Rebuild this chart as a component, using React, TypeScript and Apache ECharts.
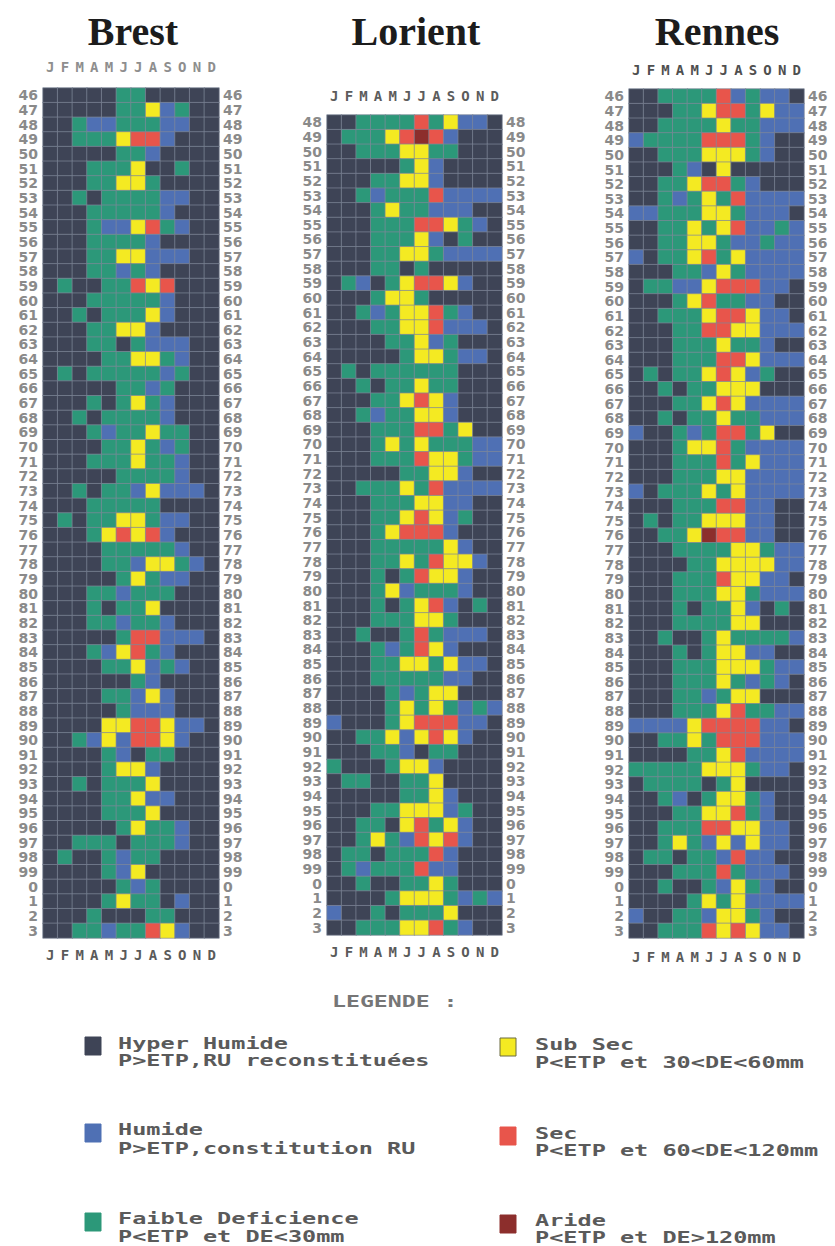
import React, { useEffect, useRef } from "react";
import * as echarts from "echarts";

// Month tick labels (one letter per column)
const months = ["J", "F", "M", "A", "M", "J", "J", "A", "S", "O", "N", "D"];

// Year tick labels
const yearsFrom46 = [
  "46", "47", "48", "49", "50", "51", "52", "53", "54", "55", "56", "57", "58", "59",
  "60", "61", "62", "63", "64", "65", "66", "67", "68", "69", "70", "71", "72", "73",
  "74", "75", "76", "77", "78", "79", "80", "81", "82", "83", "84", "85", "86", "87",
  "88", "89", "90", "91", "92", "93", "94", "95", "96", "97", "98", "99", "0", "1", "2", "3",
];
const yearsFrom48 = [
  "48", "49", "50", "51", "52", "53", "54", "55", "56", "57", "58", "59",
  "60", "61", "62", "63", "64", "65", "66", "67", "68", "69", "70", "71", "72", "73",
  "74", "75", "76", "77", "78", "79", "80", "81", "82", "83", "84", "85", "86", "87",
  "88", "89", "90", "91", "92", "93", "94", "95", "96", "97", "98", "99", "0", "1", "2", "3",
];

// Classes: H Hyper Humide, U Humide, F Faible Deficience, Y Sub Sec, S Sec, A Aride
const classCodes = ["H", "U", "F", "Y", "S", "A"];
const classNames = ["Hyper Humide", "Humide", "Faible Deficience", "Sub Sec", "Sec", "Aride"];
const classDescriptions = [
  "P>ETP,RU reconstituées",
  "P>ETP,constitution RU",
  "P<ETP et DE<30mm",
  "P<ETP et 30<DE<60mm",
  "P<ETP et 60<DE<120mm",
  "P<ETP et DE>120mm",
];
const classColors = ["#3e4456", "#4f70b4", "#2c9879", "#f4ea22", "#e8554b", "#8c2e2c"];

// One string per year (J..D)
const brestRows = [
  "HHHHHFFHHHHH", "HHHHHFFYUFHH", "HHFUUFFFUUHH", "HHFFFYSSUHHH", "HHHHHFFUHHHH",
  "HHHFFFYHHFHH", "HHHFFYYFHHHH", "HHFHFFFFUUHH", "HHHFFFFFUHHH", "HHHFUUYSFUHH",
  "HHHFFFFUHHHH", "HHHFFYYUUUHH", "HHHFFUFUHHHH", "HFHHFFSYSHHH", "HHHFFFFFUHHH",
  "HHFHFFFYUHHH", "HHHFFYYUHHHH", "HHHFFHFUUUHH", "HHHHFFYYFUHH", "HFHFFFFFUFHH",
  "HHHHHFFUFHHH", "HHHFHFYFUHHH", "HHFHFFFFUHHH", "HHHFUFFYFFHH", "HHHHFFYFUFHH",
  "HHHFFFYFFUHH", "HHHHHFFFFUHH", "HHFHFFUYUUUH", "HHHFFFFFHHHH", "HFHFFYYFUUHH",
  "HHHFYSYSUHHH", "HHHHFFFFFUHH", "HHHHFFUYYFUH", "HHHHHFYFUUHH", "HHHFFUFFFHHH",
  "HHHFHFFYHHHH", "HHHFFUFFUHHH", "HHHHHFSSUUUH", "HHHFUYSFUHHH", "HHHHFFYUFUHH",
  "HHHHHHFUHHHH", "HHHHFFUYUHHH", "HHHHHFUUUHHH", "HHHHYYSSYUUH", "HHFUYUSSYUHH",
  "HHHHFUHFFHHH", "HHHHFYYUHHHH", "HHFHFFFYHHHH", "HHHHFFYUUHHH", "HHHHFFFYHHHH",
  "HHHHHFYFFUHH", "HHFFFHFFFUHH", "HFHHFUFFHHHH", "HHHHFUYHHHHH", "HHHHHFUFHHHH",
  "HHHHFYFFHUHH", "HHHFHHHFFHHH", "HHFFUFFSYUHH",
];

const lorientRows = [
  "HHFFFFSFYUUH", "HFFFYSASUHHH", "HHFFFYYFFHHH", "HHHHHFYUHHHH", "HHHFFYYUHHHH",
  "HHFUFFFSUUUU", "HHHFYFFUUUHH", "HHHFFFSSYFUH", "HHHFFFYUHFHH", "HHHFFYYFUUUU",
  "HHHFFHFHHHHH", "HFUHFYSSYUHH", "HHHFYYFHHHHH", "HHFUFYYSFUHH", "HHHFFYYSUUUH",
  "HHHHFFYUFHHH", "HHHHHFYYFUUH", "HFHFFFFFFHHH", "HHFHFFYFFHHH", "HHHFFYSYUHHH",
  "HHFUFFYYUHHH", "HHHFFFSSFYHH", "HHHFYFYFFFUU", "HHHFFFSYYFUU", "HHHHHFFYYUHH",
  "HHFFFYFSUUUU", "HHHFFFYYUUHH", "HHHFFYSYUFHH", "HHHFYSSSUHHH", "HHHFFFFFYUHH",
  "HHHFFYFSYYUH", "HHHFHFSYYUHH", "HHHFYUFFFUHH", "HHHFHFYSUHFH", "HHHFFFYYFHHH",
  "HHFHHFSFUUUH", "HHHFUFSYUHHH", "HHHFFYYFYUUH", "HHHFFFFFUUHH", "HHHHFUFYYHHH",
  "HHHHFYFYFUFU", "UHHHFYSSSUUH", "HHFFYUYSYUHH", "HHHFFUHFFHHH", "FHHHFYYUHHHH",
  "HFFHHFFYHHHH", "HHHHHFFYUHHH", "HHHFFYYYUFHH", "HHFFHYSFYUHH", "HHFYFUSYSUHH",
  "HFFHFFFSUHHH", "HFUFFFSUUHHH", "HHFHHFFYFHHH", "HHHHFYYYFUFU", "UHHFHFFFYHHH",
  "HHFFFYYSFUHH",
];

const rennesRows = [
  "HHFFFFSUFUUH", "HHHFFYSSFYUU", "HHFFFFYFFUUU", "UFFFFSSSFUHH", "HHFFFYYYFUHH",
  "HHHFUHYHHHHH", "HHFFYSSFUHHH", "HHFUFYFSUUUU", "UUFFFYYFUUUH", "HHFFYFYSUUFU",
  "HHFFYYFUUFUU", "UHFFYSFYUUUU", "HHHFFUYFUUUU", "HFFUUYSSSUUH", "HHHFYSFFUUHH",
  "HHFFFYSSYUUH", "HHHFFSSYYUUU", "HHHFFFYFFUHH", "HHHFFFSSYUUU", "HFHFFYSYUFHH",
  "HHFHFFYYYHHH", "HHHFFYSYUUUU", "HHFHFFYFFUUU", "UHHFUFSSFYHH", "HHHFYYSFUUUU",
  "HHHFFFSFYUUU", "HHHFFFYYUUUU", "UHFFFYFYUUUU", "HHHFFFSSUUHH", "HFHFFYYYUUHH",
  "HHFFYASSUUHH", "HHHFFFFYYFUU", "HHHHFFYYYYUU", "HHHFFFSYYUUH", "HHHFFFYYFUUU",
  "HHHFHFFYUHFH", "HHHFFFFYYHHH", "HHFHHFYFFFFU", "HHHFHFYYUUHH", "HHHFFFYYYFUU",
  "HHHFFFYFUFUH", "HHHFFUFYYHHH", "HHHFFFYSFFUU", "UUUUYSSSSUUH", "HHFFYFSSSUUU",
  "HHHHFFYSUUUU", "FFFFFYYYFUUH", "HFFFFHFYHHHH", "HHFUHFYYFUHH", "HHHFFYYSFUHH",
  "HHFFFSSYYUUH", "HHFYFUYUYUUH", "HFFHFFUSUUHH", "HHHFFFSFUUUH", "HHFHHFUYFUHH",
  "HHHHFYFYUUUU", "UHHFFUYYFUHH", "HHFFFSYSYUUH",
];

const stationNames = ["Brest", "Lorient", "Rennes"];

function toHeatmapData(rows: string[]) {
  const out: number[][] = [];
  rows.forEach((row, y) => {
    row.split("").forEach((ch, x) => {
      out.push([x, y, classCodes.indexOf(ch)]);
    });
  });
  return out;
}

export default function App() {
  const ref = useRef<HTMLDivElement>(null);

  useEffect(() => {
    if (!ref.current) return;
    const chart = echarts.init(ref.current, undefined, { renderer: "svg" });

    const stations = [
      { rows: brestRows, years: yearsFrom46, grid: { left: 43, top: 88, width: 176, height: 850 }, topMargin: 14, bottomMargin: 10, topColor: "#8e8e8e", titleX: 128 },
      { rows: lorientRows, years: yearsFrom48, grid: { left: 327, top: 115, width: 175, height: 820 }, topMargin: 12, bottomMargin: 10, topColor: "#5c5c5c", titleX: 411 },
      { rows: rennesRows, years: yearsFrom46, grid: { left: 629, top: 89, width: 175, height: 849 }, topMargin: 12, bottomMargin: 12, topColor: "#4f4f4f", titleX: 712 },
    ];

    const monthLabel = (margin: number, color: string) => ({
      interval: 0,
      margin,
      color,
      fontSize: 14,
      lineHeight: 14,
      fontWeight: "bold" as const,
      fontFamily: "DejaVu Sans Mono",
    });
    const yearLabel = (margin: number) => ({
      interval: 0,
      margin,
      color: "#8a8a8a",
      fontSize: 14,
      lineHeight: 13,
      fontWeight: "bold" as const,
      fontFamily: "DejaVu Sans",
    });

    const grids: any[] = [];
    const xAxes: any[] = [];
    const yAxes: any[] = [];
    const series: any[] = [];

    stations.forEach((st, i) => {
      grids.push({ ...st.grid, containLabel: false });
      const hidden = { axisLine: { show: false }, axisTick: { show: false }, splitLine: { show: false } };
      xAxes.push({ gridIndex: i, type: "category", data: months, position: "top", axisLabel: monthLabel(st.topMargin, st.topColor), ...hidden });
      xAxes.push({ gridIndex: i, type: "category", data: months, position: "bottom", axisLabel: monthLabel(st.bottomMargin, "#5a5a5a"), ...hidden });
      yAxes.push({ gridIndex: i, type: "category", data: st.years, inverse: true, position: "left", axisLabel: yearLabel(5), ...hidden });
      yAxes.push({ gridIndex: i, type: "category", data: st.years, inverse: true, position: "right", axisLabel: yearLabel(4), ...hidden });
      series.push({
        type: "heatmap",
        name: stationNames[i],
        xAxisIndex: 2 * i,
        yAxisIndex: 2 * i,
        data: toHeatmapData(st.rows),
        itemStyle: { borderColor: "#80889a", borderWidth: 0.7 },
        emphasis: { disabled: true },
      });
    });

    const legendFont = {
      fontSize: 16,
      lineHeight: 14,
      fontWeight: "bold",
      fontFamily: "DejaVu Sans Mono",
      fill: "#5a5a5a",
      align: "left",
      verticalAlign: "middle",
    };
    const legendSlots = [
      { rx: 85, ry: 1037, tx: 118, y1: 1043, y2: 1060 },
      { rx: 85, ry: 1124, tx: 118, y1: 1129, y2: 1148 },
      { rx: 85, ry: 1213, tx: 118, y1: 1218, y2: 1236 },
      { rx: 500, ry: 1038, tx: 535, y1: 1044, y2: 1062 },
      { rx: 500, ry: 1127, tx: 535, y1: 1133, y2: 1150 },
      { rx: 500, ry: 1215, tx: 535, y1: 1220, y2: 1237 },
    ];
    const graphics: any[] = [
      {
        type: "text",
        x: 332,
        y: 1002,
        scaleX: 1.45,
        style: { ...legendFont, fill: "#767676", text: "LEGENDE :" },
      },
    ];
    legendSlots.forEach((s, i) => {
      graphics.push({
        type: "rect",
        shape: { x: s.rx, y: s.ry, width: 16, height: 18 },
        style: { fill: classColors[i], stroke: i === 3 ? "#6a6a40" : classColors[i], lineWidth: 1 },
      });
      graphics.push({ type: "text", x: s.tx, y: s.y1, scaleX: 1.47, style: { ...legendFont, text: classNames[i] } });
      graphics.push({ type: "text", x: s.tx, y: s.y2, scaleX: 1.47, style: { ...legendFont, text: classDescriptions[i] } });
    });

    chart.setOption({
      animation: false,
      backgroundColor: "#ffffff",
      title: stations.map((st, i) => ({
        text: stationNames[i],
        left: st.titleX,
        top: 6,
        textAlign: "center",
        textStyle: { fontFamily: "Liberation Serif", fontWeight: "bold", fontSize: 40, color: "#1c1c1c" },
      })),
      grid: grids,
      xAxis: xAxes,
      yAxis: yAxes,
      visualMap: {
        type: "piecewise",
        show: false,
        dimension: 2,
        seriesIndex: [0, 1, 2],
        pieces: classCodes.map((c, i) => ({ value: i, color: classColors[i], label: classNames[i] })),
      },
      series,
      graphic: graphics,
    });

    return () => chart.dispose();
  }, []);

  return <div ref={ref} style={{ position: "absolute", left: 0, top: 0, width: 835, height: 1246 }} />;
}
